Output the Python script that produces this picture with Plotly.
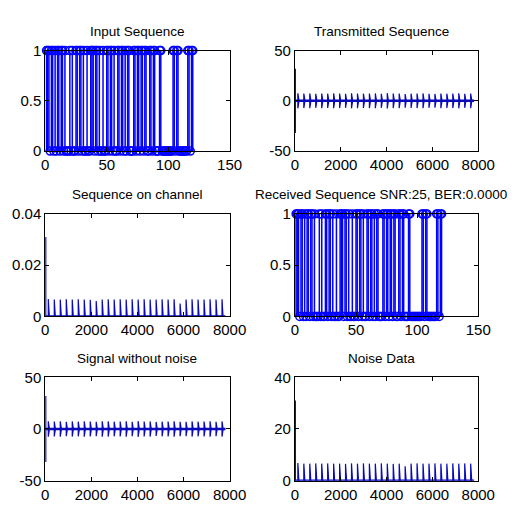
import plotly.graph_objects as go

# ---------------- data ----------------
bit_index = list(range(1, 121))
input_bits = [
    1, 1, 1, 0, 1, 1, 0, 1, 0, 1,  # 1-10
    1, 0, 1, 1, 0, 1, 0, 0, 0, 1,  # 11-20
    0, 1, 0, 0, 1, 1, 0, 1, 1, 0,  # 21-30
    1, 0, 0, 1, 0, 0, 1, 1, 1, 0,  # 31-40
    1, 1, 0, 1, 0, 0, 1, 0, 0, 1,  # 41-50
    1, 0, 1, 1, 0, 1, 0, 0, 1, 1,  # 51-60
    0, 1, 1, 0, 1, 0, 1, 1, 0, 0,  # 61-70
    0, 1, 1, 0, 1, 1, 0, 1, 1, 0,  # 71-80
    1, 1, 0, 0, 1, 1, 0, 1, 1, 0,  # 81-90
    0, 0, 1, 1, 0, 0, 0, 0, 0, 0,  # 91-100
    0, 0, 0, 1, 1, 0, 1, 1, 0, 0,  # 101-110
    0, 0, 0, 0, 0, 1, 1, 0, 1, 1,  # 111-120
]
received_bits = list(input_bits)  # BER 0.0000

# burst positions (sample index) of the 30 OFDM-like symbols
burst_pos = [130 + 260 * k for k in range(30)]
signal_len = 7820
spike_pos = 15

tx_spike = 32.0
tx_burst_amp = [7.5, 7.2, 7.4, 7.0, 7.3, 7.1, 7.4, 7.2, 7.0, 7.5,
                7.3, 7.1, 7.2, 7.4, 7.0, 7.6, 7.2, 7.3, 6.8, 7.1,
                7.2, 7.4, 7.0, 6.9, 7.3, 7.1, 7.2, 7.5, 7.0, 7.3]

ch_spike = 0.031
ch_burst_amp = [0.0068, 0.0066, 0.0066, 0.0067, 0.0066, 0.0067, 0.0066, 0.0065, 0.0060, 0.0066,
                0.0067, 0.0066, 0.0067, 0.0066, 0.0067, 0.0066, 0.0067, 0.0066, 0.0066, 0.0067,
                0.0066, 0.0067, 0.0050, 0.0066, 0.0067, 0.0066, 0.0066, 0.0067, 0.0066, 0.0067]

noise_spike = 31.0
noise_burst_amp = [6.8, 6.6, 6.6, 6.7, 6.6, 6.7, 6.6, 6.6, 6.5, 6.7,
                   6.6, 6.7, 6.6, 6.6, 6.7, 6.6, 6.5, 6.6, 5.6, 6.6,
                   6.7, 6.6, 6.6, 6.7, 6.6, 6.6, 6.7, 6.6, 6.7, 6.6]

titles = ["Input Sequence", "Transmitted Sequence", "Sequence on channel",
          "Received Sequence SNR:25, BER:0.0000", "Signal without noise", "Noise Data"]

stem_xticks = [0, 50, 100, 150]
stem_yticks = [0, 0.5, 1]
stem_yticktext = ["0", "0.5", "1"]
sig_xticks = [0, 2000, 4000, 6000, 8000]
tx_yticks = [-50, 0, 50]
ch_yticks = [0, 0.02, 0.04]
ch_yticktext = ["0", "0.02", "0.04"]
noise_yticks = [0, 20, 40]

# ---------------- style ----------------
FONT = "Liberation Sans, Arial, sans-serif"
BLUE = "#0000ff"
DARK = "#0a0ab8"
W, H = 525, 509
col_px = [(43, 235), (303, 494)]
row_px = [(43, 147), (212, 318), (381, 488)]
title_cx_px = [139, 393]
title_y_px = [23, 192, 362]

fig = go.Figure()


def dom_x(c):
    a, b = col_px[c]
    return [a / W, b / W]


def dom_y(r):
    t, b = row_px[r]
    return [1 - b / H, 1 - t / H]


def add_stem(n, xs, vals):
    sx, sy = [], []
    for x, v in zip(xs, vals):
        if v != 0:
            sx += [x, x, None]
            sy += [0, v, None]
    fig.add_trace(go.Scatter(x=sx, y=sy, mode="lines", line=dict(color=BLUE, width=1.5),
                             xaxis=f"x{n}", yaxis=f"y{n}", showlegend=False, hoverinfo="skip"))
    fig.add_trace(go.Scatter(x=xs, y=vals, mode="markers",
                             marker=dict(symbol="circle-open", size=8, color=BLUE, line=dict(width=1.5)),
                             cliponaxis=False, xaxis=f"x{n}", yaxis=f"y{n}", showlegend=False))


def add_signal(n, spike, amps, symmetric, tail):
    fig.add_trace(go.Scatter(x=[0, signal_len], y=[0, 0], mode="lines",
                             line=dict(color=DARK, width=2.5),
                             xaxis=f"x{n}", yaxis=f"y{n}", showlegend=False, hoverinfo="skip"))
    lo = -spike if symmetric else 0
    fig.add_trace(go.Scatter(x=[spike_pos, spike_pos], y=[lo, spike], mode="lines",
                             line=dict(color=DARK, width=1.5),
                             xaxis=f"x{n}", yaxis=f"y{n}", showlegend=False, hoverinfo="skip"))
    bx, by = [], []
    for p, a in zip(burst_pos, amps):
        low = -a if symmetric else 0
        bx += [p, p, p + tail, p, None]
        by += [low, a, 0, low, None]
    fig.add_trace(go.Scatter(x=bx, y=by, mode="lines", fill="toself", fillcolor=DARK,
                             line=dict(color=DARK, width=1.2),
                             xaxis=f"x{n}", yaxis=f"y{n}", showlegend=False, hoverinfo="skip"))


add_stem(1, bit_index, input_bits)
add_signal(2, tx_spike, tx_burst_amp, True, 50)
add_signal(3, ch_spike, ch_burst_amp, False, 45)
add_stem(4, bit_index, received_bits)
add_signal(5, tx_spike, tx_burst_amp, True, 50)
add_signal(6, noise_spike, noise_burst_amp, False, 45)

axis_common = dict(showline=True, linecolor="black", linewidth=1, mirror="ticks",
                   ticks="inside", ticklen=4, tickcolor="black", showgrid=False,
                   zeroline=False, tickfont=dict(family=FONT, size=15, color="black"))

specs = [
    (1, 0, 0, [0, 150], stem_xticks, [0, 1], stem_yticks, stem_yticktext),
    (2, 1, 0, [0, 8000], sig_xticks, [-50, 50], tx_yticks, [str(v) for v in tx_yticks]),
    (3, 0, 1, [0, 8000], sig_xticks, [0, 0.04], ch_yticks, ch_yticktext),
    (4, 1, 1, [0, 150], stem_xticks, [0, 1], stem_yticks, stem_yticktext),
    (5, 0, 2, [0, 8000], sig_xticks, [-50, 50], tx_yticks, [str(v) for v in tx_yticks]),
    (6, 1, 2, [0, 8000], sig_xticks, [0, 40], noise_yticks, [str(v) for v in noise_yticks]),
]

layout = {}
annotations = []
for n, c, r, xr, xt, yr, yt, ytt in specs:
    xk = "xaxis" if n == 1 else f"xaxis{n}"
    yk = "yaxis" if n == 1 else f"yaxis{n}"
    layout[xk] = dict(axis_common, domain=dom_x(c), range=xr, tickvals=xt,
                      ticktext=[str(v) for v in xt], anchor=f"y{n}")
    layout[yk] = dict(axis_common, domain=dom_y(r), range=yr, tickvals=yt, ticktext=ytt,
                      anchor=f"x{n}")
    annotations.append(dict(text=titles[n - 1], x=title_cx_px[c] / W, y=1 - title_y_px[r] / H,
                            xref="paper", yref="paper", xanchor="center", yanchor="middle",
                            showarrow=False, font=dict(family=FONT, size=13.5, color="black")))

fig.update_layout(**layout)
fig.update_layout(width=W, height=H, margin=dict(l=0, r=0, t=0, b=0),
                  paper_bgcolor="white", plot_bgcolor="white",
                  annotations=annotations, showlegend=False)

fig.write_html("out.html")
